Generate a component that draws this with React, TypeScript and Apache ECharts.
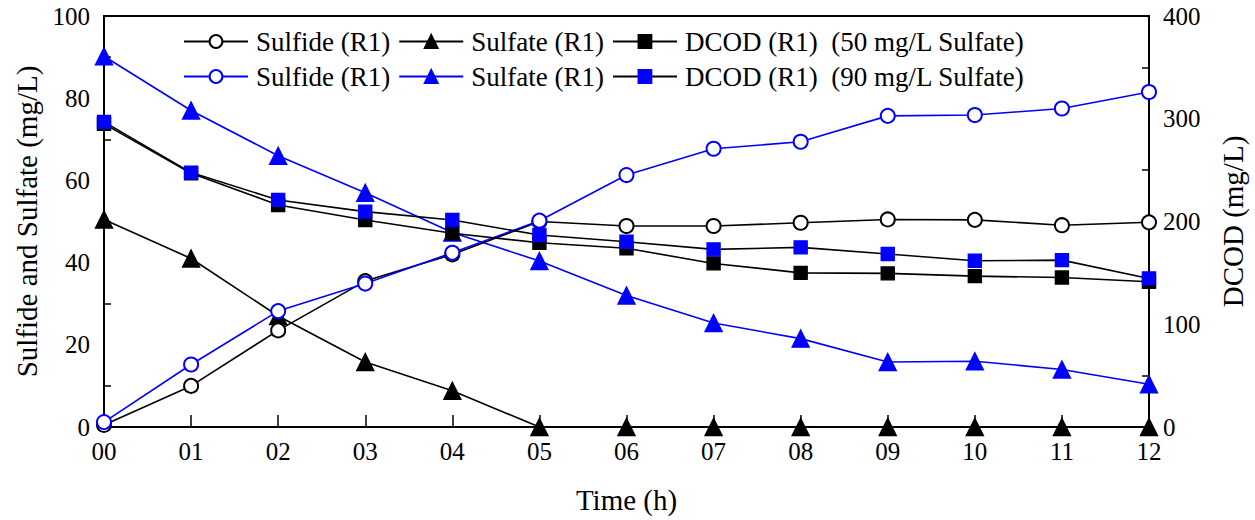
import React, { useEffect, useRef } from "react";
import * as echarts from "echarts";

// Sampling times (h)
const hours = ["00", "01", "02", "03", "04", "05", "06", "07", "08", "09", "10", "11", "12"];

// Left axis: sulfide / sulfate (mg/L)
const sulfide50 = [0.5, 10, 23.5, 35.5, 42, 50, 48.9, 48.9, 49.7, 50.5, 50.4, 49.1, 49.8];
const sulfate50 = [50.5, 41, 27, 15.8, 8.8, 0, 0, 0, 0, 0, 0, 0, 0];
const sulfide90 = [1.2, 15.2, 28.2, 34.9, 42.4, 50.2, 61.3, 67.7, 69.4, 75.7, 75.9, 77.5, 81.5];
const sulfate90 = [90.2, 77, 66, 57, 47.3, 40.4, 32, 25.3, 21.5, 15.8, 16, 14, 10.4];

// Right axis: DCOD (mg/L)
const dcod50 = [295, 247, 216, 201.5, 188.5, 179.3, 173.9, 159.2, 150, 149.5, 146.8, 145.5, 141.3];
const dcod90 = [297, 247.6, 221, 209.6, 201.5, 186.8, 180.3, 172.9, 174.8, 168.3, 161.8, 162.4, 144.6];

// Left axis ticks
const leftMin = 0;
const leftMax = 100;
const leftStep = 20;
// Right axis ticks
const rightMin = 0;
const rightMax = 400;
const rightStep = 100;

// Legend text per series key
const legendText: Record<string, string> = {
  sulfide50: "Sulfide (R1)",
  sulfate50: "Sulfate (R1)",
  dcod50: "DCOD (R1)  (50 mg/L Sulfate)",
  sulfide90: "Sulfide (R1)",
  sulfate90: "Sulfate (R1)",
  dcod90: "DCOD (R1)  (90 mg/L Sulfate)",
};

const FONT = "'Liberation Serif', 'Times New Roman', serif";
const BLACK = "#000000";
const BLUE = "#0000ff";

export default function App() {
  const ref = useRef<HTMLDivElement>(null);

  useEffect(() => {
    if (!ref.current) return;
    const chart = echarts.init(ref.current, undefined, { renderer: "svg" });

    const lineSeries = (
      key: string,
      data: number[],
      yAxisIndex: number,
      symbol: string,
      symbolSize: number,
      markerColor: string,
      lineColor: string
    ) => ({
      name: key,
      type: "line",
      data,
      yAxisIndex,
      symbol,
      symbolSize,
      clip: false,
      lineStyle: { color: lineColor, width: 1.6 },
      itemStyle: { color: markerColor, borderColor: markerColor, borderWidth: 1.4 },
      emphasis: { disabled: true },
    });

    const legendBase = {
      left: 183,
      orient: "horizontal",
      padding: 0,
      itemWidth: 64,
      itemHeight: 16,
      itemGap: 8,
      selectedMode: false,
      formatter: (n: string) => legendText[n],
      textStyle: {
        fontFamily: FONT,
        fontSize: 27,
        color: BLACK,
        lineHeight: 27,
        padding: [0, 0, 0, 3],
      },
    };

    const axisLabel = { fontFamily: FONT, fontSize: 25, color: BLACK };
    const nameStyle = { fontFamily: FONT, fontSize: 29, color: BLACK };
    const axisLine = { show: true, lineStyle: { color: BLACK, width: 2 } };

    chart.setOption({
      animation: false,
      backgroundColor: "#ffffff",
      grid: {
        left: 104,
        right: 103,
        top: 16,
        bottom: 93,
        show: true,
        borderColor: BLACK,
        borderWidth: 2,
        backgroundColor: "transparent",
      },
      legend: [
        { ...legendBase, top: 28, data: ["sulfide50", "sulfate50", "dcod50"] },
        { ...legendBase, top: 63, data: ["sulfide90", "sulfate90", "dcod90"] },
      ],
      xAxis: {
        type: "category",
        data: hours,
        boundaryGap: false,
        name: "Time (h)",
        nameLocation: "middle",
        nameGap: 58,
        nameTextStyle: nameStyle,
        axisLine,
        axisTick: { inside: true, length: 12, lineStyle: { color: BLACK, width: 1.5 } },
        axisLabel: { ...axisLabel, margin: 12 },
        splitLine: { show: false },
      },
      yAxis: [
        {
          type: "value",
          min: leftMin,
          max: leftMax,
          interval: leftStep,
          position: "left",
          name: "Sulfide and Sulfate (mg/L)",
          nameLocation: "middle",
          nameRotate: 90,
          nameGap: 63,
          nameTextStyle: nameStyle,
          axisLine,
          axisTick: { inside: true, length: 12, lineStyle: { color: BLACK, width: 1.5 } },
          minorTick: { show: true, splitNumber: 2, length: 7, lineStyle: { color: BLACK, width: 1.5 } },
          axisLabel: { ...axisLabel, margin: 14 },
          splitLine: { show: false },
          minorSplitLine: { show: false },
        },
        {
          type: "value",
          min: rightMin,
          max: rightMax,
          interval: rightStep,
          position: "right",
          name: "DCOD (mg/L)",
          nameLocation: "middle",
          nameRotate: 90,
          nameGap: 69,
          nameTextStyle: nameStyle,
          axisLine,
          axisTick: { inside: true, length: 12, lineStyle: { color: BLACK, width: 1.5 } },
          minorTick: { show: true, splitNumber: 2, length: 7, lineStyle: { color: BLACK, width: 1.5 } },
          axisLabel: { ...axisLabel, margin: 14 },
          splitLine: { show: false },
          minorSplitLine: { show: false },
        },
      ],
      series: [
        lineSeries("sulfate50", sulfate50, 0, "triangle", 17, BLACK, BLACK),
        lineSeries("sulfate90", sulfate90, 0, "triangle", 17, BLUE, BLUE),
        lineSeries("sulfide50", sulfide50, 0, "emptyCircle", 14, BLACK, BLACK),
        lineSeries("sulfide90", sulfide90, 0, "emptyCircle", 14, BLUE, BLUE),
        lineSeries("dcod50", dcod50, 1, "rect", 13, BLACK, BLACK),
        lineSeries("dcod90", dcod90, 1, "rect", 13, BLUE, BLACK),
      ],
    });

    return () => chart.dispose();
  }, []);

  return (
    <div
      ref={ref}
      style={{ position: "absolute", left: 0, top: 0, width: 1255, height: 520, background: "#fff" }}
    />
  );
}
